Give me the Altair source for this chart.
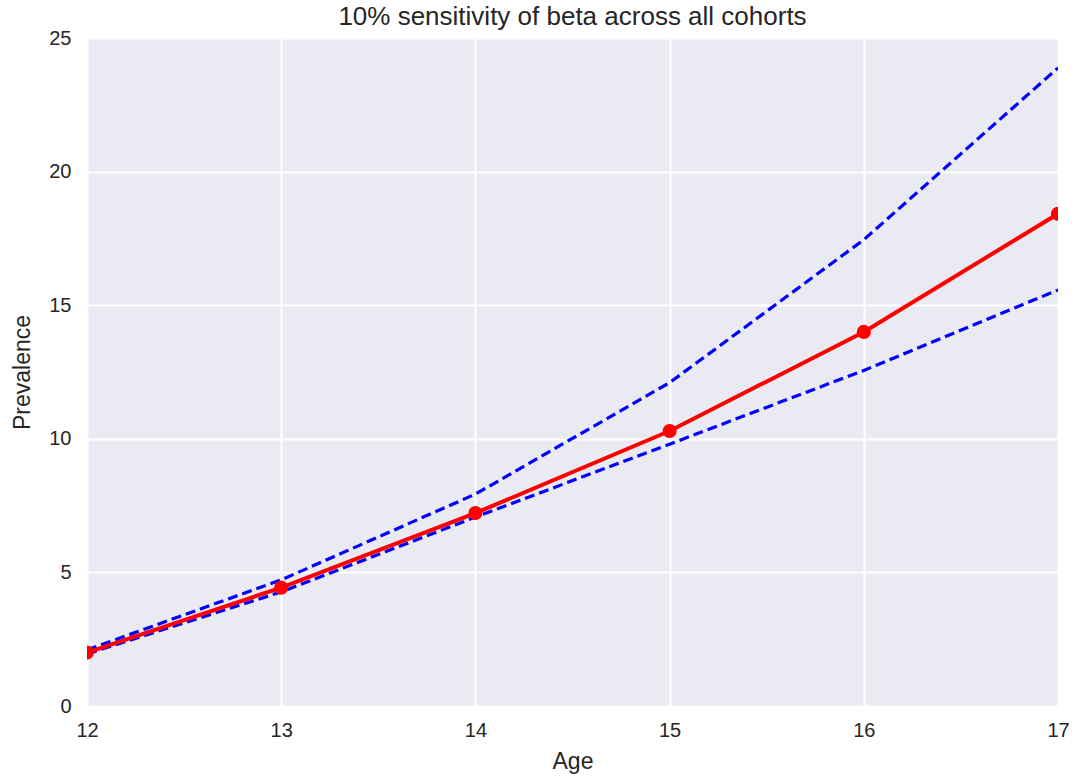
import altair as alt
import pandas as pd

ages = [12, 13, 14, 15, 16, 17]
prevalence = [2.0, 4.43, 7.22, 10.29, 14.0, 18.42]
upper = [2.1, 4.72, 7.93, 12.1, 17.45, 23.88]
lower = [1.95, 4.27, 7.07, 9.8, 12.56, 15.57]

df = pd.DataFrame({"Age": ages, "Prevalence": prevalence, "Upper": upper, "Lower": lower})

FONT = "Liberation Sans"
TXT = "#262626"

x = alt.X("Age:Q", scale=alt.Scale(domain=[12, 17], nice=False),
          axis=alt.Axis(title="Age", values=ages, format="d"))
yax = alt.Axis(title="Prevalence", values=[0, 5, 10, 15, 20, 25])
yscale = alt.Scale(domain=[0, 25], nice=False)

base = alt.Chart(df)
up = base.mark_line(color="#0000ff", strokeWidth=3.2, strokeDash=[10, 5], clip=True).encode(
    x=x, y=alt.Y("Upper:Q", scale=yscale, axis=yax))
lo = base.mark_line(color="#0000ff", strokeWidth=3.2, strokeDash=[10, 5], clip=True).encode(
    x=x, y=alt.Y("Lower:Q", scale=yscale, axis=yax))
mid = base.mark_line(color="#ff0000", strokeWidth=4, clip=True).encode(
    x=x, y=alt.Y("Prevalence:Q", scale=yscale, axis=yax))
pts = base.mark_circle(color="#ff0000", size=200, opacity=1, clip=True).encode(
    x=x, y=alt.Y("Prevalence:Q", scale=yscale, axis=yax))

chart = alt.layer(up, lo, mid, pts).properties(
    width=971, height=668,
    title=alt.TitleParams("10% sensitivity of beta across all cohorts", fontSize=26,
                          font=FONT, color=TXT, fontWeight="normal", offset=-2),
    autosize=alt.AutoSizeParams(type="none"),
    padding={"left": 87, "top": 38, "right": 26, "bottom": 72},
).configure_view(fill="#EAEAF2", stroke=None).configure_axis(
    grid=True, gridColor="white", gridWidth=2, domain=False, ticks=False, labelFlush=False,
    labelFont=FONT, labelFontSize=20, labelColor=TXT,
    titleFont=FONT, titleFontSize=23, titleColor=TXT, titleFontWeight="normal",
).configure_axisX(labelPadding=14, titlePadding=10).configure_axisY(labelPadding=16, titlePadding=14)

chart.save("out.html", embed_options={"renderer": "svg", "actions": False})
